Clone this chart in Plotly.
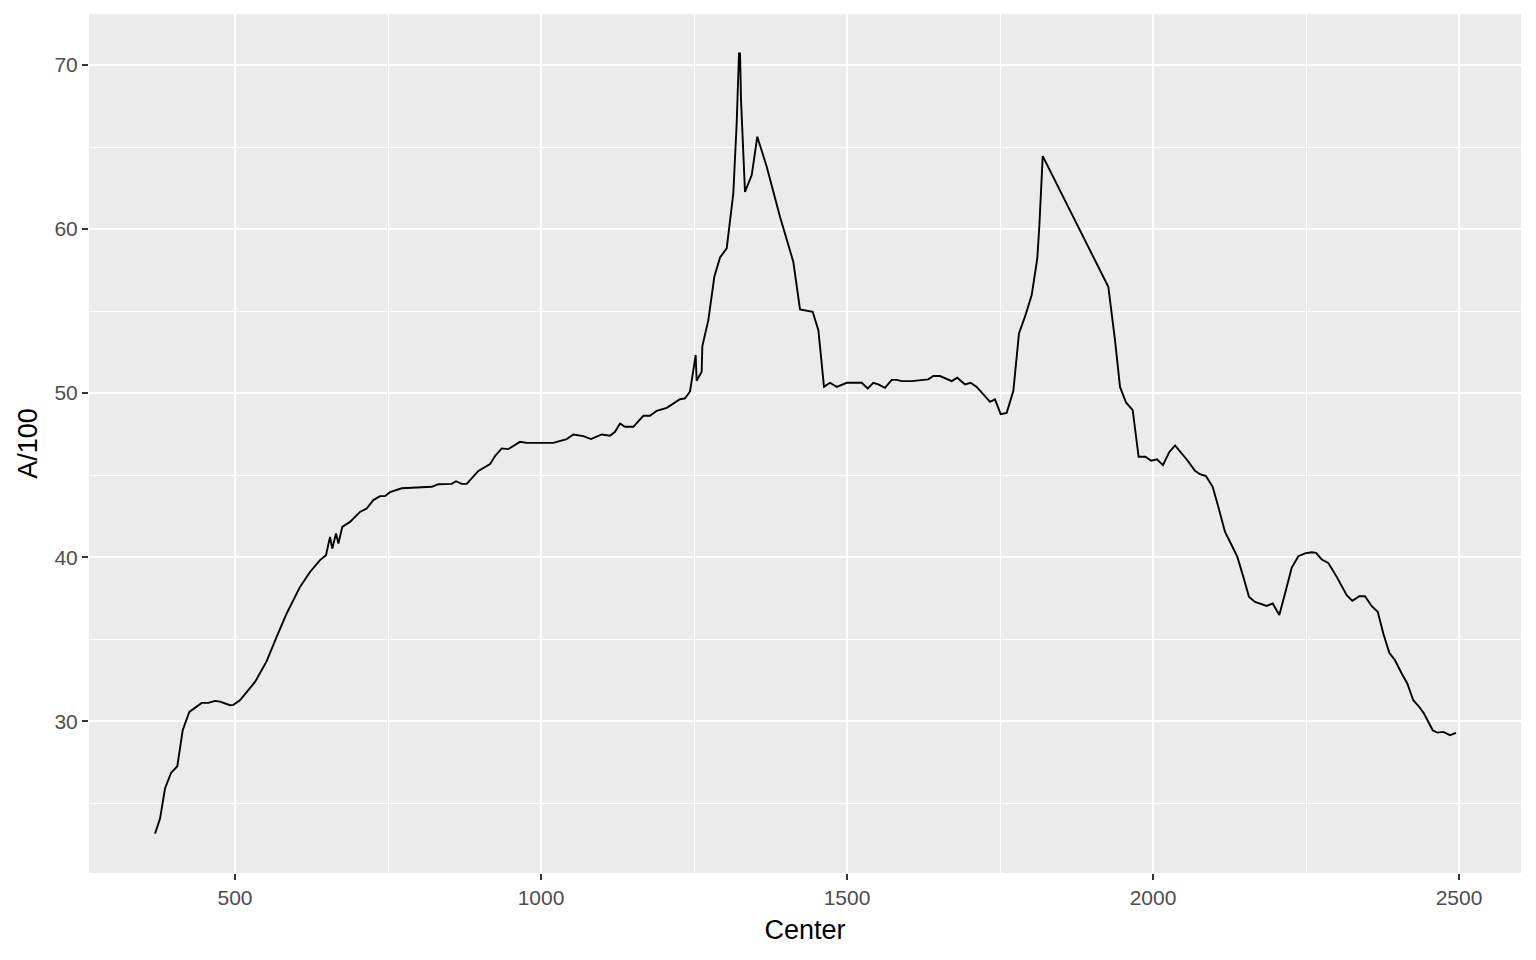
import plotly.graph_objects as go

center = [369.3, 377.5, 385.6, 395.4, 405.7, 414.5, 425.3, 445.6, 456.5, 467.3, 475.5, 491.8, 497.3, 508, 532.7,
          551.7, 568, 584.4, 606.2, 622.5, 638.9, 648.7, 655.2, 659, 665, 668.9, 675.3, 687.9, 704.2, 715.1, 726,
          736.9, 745, 753.3, 772.4, 796.9, 821.4, 832.3, 854.1, 861.1, 870.4, 878.6, 897.6, 916.7, 924.8, 935.8,
          946.6, 965.7, 976.6, 1020.1, 1041.9, 1052.8, 1069.1, 1081.7, 1099.2, 1112.7, 1120.9, 1129.1, 1137.3,
          1150.8, 1167.2, 1178.1, 1189, 1205.4, 1227.1, 1235.3, 1243.5, 1252.7, 1254.3, 1262.5, 1263.6, 1273.4,
          1283.2, 1292.5, 1303.4, 1314.2, 1319.7, 1323.5, 1325.2, 1326.8, 1333.3, 1344.3, 1353.4, 1368.8, 1390.5,
          1412.3, 1423.2, 1443.9, 1453.2, 1462.4, 1472.2, 1483.2, 1499.5, 1524, 1533.8, 1543, 1551.1, 1562.1,
          1573, 1581.2, 1589.3, 1605.7, 1632.8, 1641, 1652, 1671.1, 1680.2, 1692.8, 1702.1, 1711.9, 1722.7,
          1733.7, 1741.8, 1751.1, 1760.9, 1771.8, 1781, 1790.8, 1801.8, 1810.9, 1814.2, 1819.8, 1927, 1937.9,
          1946.1, 1955.9, 1966.8, 1976.5, 1987.5, 1997, 2006.5, 2016.3, 2026.4, 2036, 2046.9, 2056.1, 2068.6,
          2076.8, 2086.6, 2097.5, 2106.7, 2117.7, 2128.6, 2137.8, 2147.6, 2156.9, 2166.7, 2177.6, 2185.8, 2195.6,
          2206.4, 2218.5, 2226.6, 2237.4, 2248.4, 2259.3, 2266.3, 2275.7, 2286.4, 2300.2, 2316.5, 2325.7, 2337.2,
          2346.4, 2357.4, 2367.2, 2376.3, 2386.1, 2395.4, 2406.4, 2415.5, 2425.3, 2435.1, 2442.8, 2457, 2464.5,
          2474.3, 2485.3, 2490.7, 2495.1]

a_per_100 = [23.15, 24.07, 25.9, 26.85, 27.26, 29.45, 30.57, 31.12, 31.12, 31.24, 31.2, 30.98, 31.0, 31.28, 32.4,
             33.66, 35.14, 36.57, 38.19, 39.1, 39.82, 40.12, 41.24, 40.53, 41.45, 40.84, 41.85, 42.15, 42.76, 42.97,
             43.48, 43.72, 43.72, 43.96, 44.2, 44.25, 44.29, 44.45, 44.47, 44.63, 44.47, 44.47, 45.26, 45.67, 46.16,
             46.63, 46.59, 47.03, 46.97, 46.97, 47.2, 47.48, 47.38, 47.2, 47.48, 47.4, 47.64, 48.15, 47.95, 47.95,
             48.62, 48.62, 48.92, 49.1, 49.63, 49.68, 50.1, 52.32, 50.75, 51.3, 52.87, 54.45, 57.09, 58.27, 58.82,
             62.18, 66.44, 70.71, 70.71, 67.87, 62.27, 63.29, 65.63, 63.8, 60.75, 58.0, 55.1, 54.96, 53.84, 50.38,
             50.63, 50.38, 50.63, 50.63, 50.29, 50.63, 50.53, 50.32, 50.81, 50.81, 50.73, 50.73, 50.84, 51.05, 51.04,
             50.73, 50.94, 50.53, 50.63, 50.38, 49.94, 49.47, 49.62, 48.72, 48.8, 50.14, 53.64, 54.66, 55.98, 58.21,
             60.14, 64.45, 56.48, 53.23, 50.38, 49.43, 48.96, 46.12, 46.12, 45.88, 45.96, 45.61, 46.4, 46.81, 46.32,
             45.91, 45.27, 45.06, 44.94, 44.29, 43.07, 41.54, 40.73, 40.02, 38.8, 37.58, 37.27, 37.13, 37.03, 37.18,
             36.48, 38.19, 39.35, 40.06, 40.23, 40.3, 40.26, 39.86, 39.65, 38.8, 37.68, 37.34, 37.62, 37.62, 37.01,
             36.67, 35.35, 34.17, 33.72, 32.91, 32.3, 31.28, 30.87, 30.47, 29.45, 29.31, 29.35, 29.15, 29.25, 29.29]

x_ticks = [500, 1000, 1500, 2000, 2500]
y_ticks = [30, 40, 50, 60, 70]

fig = go.Figure()
fig.add_trace(go.Scatter(x=center, y=a_per_100, mode="lines",
                         line=dict(color="black", width=1.9), hoverinfo="x+y"))

font_family = "Liberation Sans, Arial, sans-serif"
axis_common = dict(
    showgrid=True, gridcolor="white", gridwidth=2.2,
    zeroline=False, showline=False,
    ticks="outside", ticklen=6, tickwidth=1.8, tickcolor="#333333",
    tickfont=dict(family=font_family, size=21, color="#4D4D4D"),
)

fig.update_layout(
    width=1528, height=952,
    margin=dict(l=81, r=15, t=6, b=87),
    paper_bgcolor="white", plot_bgcolor="#EBEBEB",
    showlegend=False,
    xaxis=dict(range=[261.4, 2601.3], tickvals=x_ticks, ticktext=[str(v) for v in x_ticks],
               minor=dict(tickvals=[750, 1250, 1750, 2250], showgrid=True, gridcolor="white", gridwidth=1.1, ticks=""),
               title=dict(text="Center", font=dict(family=font_family, size=27, color="black"), standoff=11),
               **axis_common),
    yaxis=dict(range=[20.75, 73.11], tickvals=y_ticks, ticktext=[str(v) for v in y_ticks],
               minor=dict(tickvals=[25, 35, 45, 55, 65], showgrid=True, gridcolor="white", gridwidth=1.1, ticks=""),
               title=dict(text="A/100", font=dict(family=font_family, size=27, color="black"), standoff=8),
               **axis_common),
)

fig.write_html("out.html")
